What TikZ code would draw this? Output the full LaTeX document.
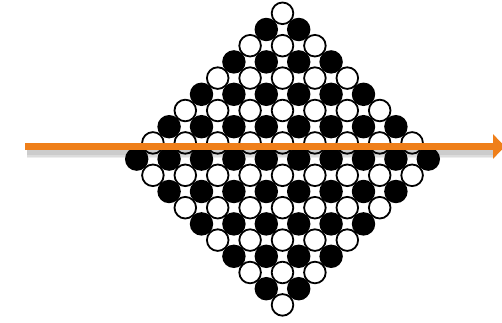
\documentclass[tikz,border=0pt]{standalone}
\usetikzlibrary{arrows.meta}
\definecolor{arroworange}{RGB}{239,127,26}
\tikzset{
  whitedot/.style={circle, fill=white, draw=black, line width=1.8pt, minimum size=21.6pt, inner sep=0pt},
  blackdot/.style={circle, fill=black, draw=black, line width=1.8pt, minimum size=21.6pt, inner sep=0pt},
  flowshadow/.style={draw=black, opacity=0.07, line cap=butt},
  flow/.style={line width=7pt, draw=arroworange, line cap=butt, -{Triangle[length=12pt,width=24pt]}},
}

\begin{document}
\begin{tikzpicture}[x=1pt,y=-1pt]
\useasboundingbox (0,0) rectangle (502,323);
% diamond of beads, 19 rows, white and black rows in turn
\foreach \r in {0,...,18} {
  \pgfmathtruncatemacro\n{min(\r,18-\r)}
  \ifodd\r \def\dotkind{blackdot}\else \def\dotkind{whitedot}\fi
  \foreach \k in {0,...,\n}
    \node[\dotkind] (d-\r-\k) at ({282.5+(\k-\n/2)*32.4},{13.3+\r*16.2}) {};
}
% the line that cuts across, with a soft shadow
\coordinate (arrowtail) at (25,146.5);
\coordinate (arrowtip) at (505,146.5);
\foreach \w in {11,8,5}
  \draw[flowshadow, line width=\w pt] ([shift={(2,6)}]arrowtail) -- ([shift={(-12,6)}]arrowtip);
\draw[flow] (arrowtail) -- (arrowtip);
\end{tikzpicture}
\end{document}
